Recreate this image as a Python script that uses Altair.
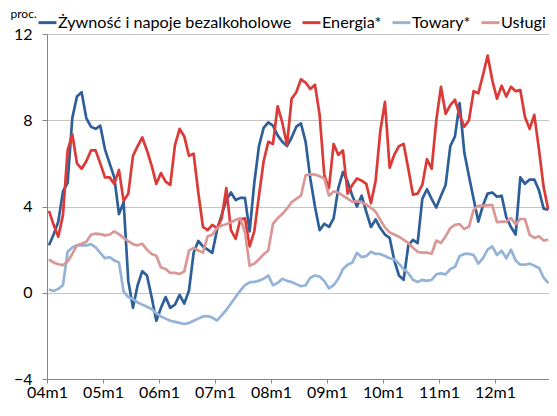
import altair as alt
import pandas as pd

# Monthly data 2004m1 .. 2012m12 (108 months), % y/y
zywnosc = [2.2, 2.7, 3.3, 4.7, 5.1, 8.1, 9.1, 9.3, 8.1, 7.7, 7.6, 7.75,
           6.65, 6.0, 5.35, 3.65, 4.2, 0.55, -0.7, 0.35, 1.0, 0.8, -0.2, -1.3,
           -0.7, -0.2, -0.7, -0.55, -0.1, -0.5, 0.1, 1.85, 2.4, 2.15, 2.0, 1.85,
           2.9, 3.6, 4.3, 4.65, 4.3, 4.4, 4.4, 2.85, 5.1, 6.8, 7.65, 7.9,
           7.75, 7.3, 7.0, 6.8, 7.2, 7.7, 7.85, 7.0, 5.3, 4.0, 2.9, 3.2,
           3.05, 3.45, 4.85, 5.6, 5.15, 4.5, 4.0, 4.5, 3.75, 3.05, 3.4, 3.0,
           2.7, 2.55, 1.5, 0.8, 0.6, 2.2, 2.45, 2.3, 4.35, 4.8, 4.35, 3.95,
           4.5, 5.0, 6.8, 7.25, 8.8, 6.5, 5.4, 4.35, 3.3, 4.05, 4.6, 4.65,
           4.45, 4.5, 3.5, 3.05, 2.7, 5.35, 5.05, 5.25, 5.25, 4.75, 3.9, 3.85]

energia = [3.8, 3.15, 2.6, 3.6, 6.6, 7.35, 6.0, 5.75, 6.1, 6.6, 6.6, 6.0,
           5.35, 5.35, 5.05, 5.7, 4.25, 4.6, 6.35, 6.8, 7.2, 6.6, 5.9, 5.05,
           5.55, 5.15, 5.0, 6.85, 7.6, 7.25, 6.35, 6.45, 4.65, 3.05, 2.9, 3.15,
           3.0, 3.45, 4.85, 2.9, 2.5, 3.4, 3.45, 2.15, 2.85, 4.5, 6.1, 7.0,
           6.9, 8.65, 7.9, 6.85, 9.0, 9.3, 9.9, 9.75, 9.45, 9.65, 8.25, 5.45,
           4.85, 6.9, 6.4, 6.6, 4.6, 5.0, 5.3, 5.2, 5.05, 4.15, 5.2, 7.5,
           8.85, 5.8, 6.4, 6.8, 6.9, 5.75, 4.55, 4.6, 5.0, 6.2, 5.75, 8.0,
           9.55, 8.3, 8.7, 8.95, 8.25, 7.7, 8.0, 9.35, 9.25, 10.1, 11.0, 9.85,
           9.0, 9.6, 9.1, 9.55, 9.35, 9.4, 8.15, 7.6, 8.25, 6.65, 4.9, 3.85]

towary = [0.15, 0.08, 0.18, 0.35, 1.9, 2.1, 2.2, 2.2, 2.2, 2.25, 2.1, 1.85,
          1.6, 1.65, 1.5, 1.4, 0.05, -0.2, -0.3, -0.45, -0.55, -0.65, -0.75, -0.95,
          -1.1, -1.2, -1.3, -1.35, -1.4, -1.45, -1.4, -1.3, -1.2, -1.1, -1.08, -1.15,
          -1.29, -1.05, -0.8, -0.5, -0.2, 0.1, 0.35, 0.48, 0.5, 0.56, 0.65, 0.8,
          0.35, 0.45, 0.65, 0.55, 0.5, 0.4, 0.3, 0.35, 0.7, 0.8, 0.75, 0.55,
          0.2, 0.35, 0.65, 1.1, 1.3, 1.4, 1.85, 1.65, 1.7, 1.9, 1.8, 1.8,
          1.7, 1.6, 1.55, 1.35, 1.1, 0.9, 0.6, 0.5, 0.6, 0.55, 0.6, 0.85,
          0.9, 0.85, 1.1, 1.2, 1.7, 1.8, 1.8, 1.75, 1.35, 1.6, 2.0, 2.15,
          1.75, 1.95, 1.6, 2.0, 1.5, 1.3, 1.3, 1.35, 1.25, 1.15, 0.7, 0.45]

uslugi = [1.55, 1.4, 1.32, 1.28, 1.45, 1.8, 2.2, 2.27, 2.36, 2.69, 2.74, 2.72,
          2.66, 2.7, 2.85, 2.72, 2.54, 2.39, 2.25, 2.2, 2.27, 2.0, 1.8, 1.72,
          1.17, 1.1, 0.92, 0.92, 0.87, 0.99, 1.95, 2.08, 1.96, 1.86, 2.62, 2.69,
          3.0, 3.12, 3.18, 3.27, 3.38, 3.46, 2.8, 1.25, 1.35, 1.55, 1.78, 1.96,
          3.2, 3.45, 3.65, 3.9, 4.2, 4.35, 4.5, 5.45, 5.5, 5.48, 5.4, 5.3,
          4.5, 4.7, 4.64, 4.5, 4.37, 4.22, 4.25, 4.19, 4.09, 3.94, 3.76, 3.38,
          3.03, 2.8, 2.7, 2.6, 2.45, 2.31, 2.09, 1.9, 1.86, 1.86, 1.81, 2.42,
          2.31, 2.62, 3.0, 3.15, 3.18, 2.95, 3.07, 3.84, 4.03, 4.03, 4.06, 4.06,
          3.27, 3.3, 3.3, 3.46, 3.18, 3.42, 3.42, 2.69, 2.54, 2.62, 2.42, 2.47]

series_names = ["Żywność i napoje bezalkoholowe", "Energia*", "Towary*", "Usługi"]
series_colors = ["#2f5f98", "#dc3a36", "#95b3d7", "#d99795"]
year_labels = ["04m1", "05m1", "06m1", "07m1", "08m1", "09m1", "10m1", "11m1", "12m1"]

rows = []
for name, vals in zip(series_names, [zywnosc, energia, towary, uslugi]):
    for i, v in enumerate(vals):
        rows.append({"m": i, "v": v, "s": name, "o": series_names.index(name)})
df = pd.DataFrame(rows)

x0 = -0.42
tick_vals = [x0 + 12 * k for k in range(len(year_labels))]
label_expr = "[" + ",".join("'%s'" % l for l in year_labels) + "][round((datum.value - (%s)) / 12)]" % x0

FONT = "Lato"

chart = alt.Chart(df).mark_line(strokeWidth=2.7, strokeJoin="round").encode(
    x=alt.X("m:Q",
            scale=alt.Scale(domain=[x0, 107.15], nice=False, zero=False),
            axis=alt.Axis(values=tick_vals, labelExpr=label_expr, title=None,
                          grid=False, tickSize=4, tickColor="#868686",
                          domainColor="#868686", labelPadding=1,
                          labelFontSize=16, labelColor="#000000", labelFont=FONT,
                          labelFlush=False, labelOverlap=False)),
    y=alt.Y("v:Q",
            scale=alt.Scale(domain=[-4, 12], nice=False, zero=False),
            axis=alt.Axis(values=[-4, 0, 4, 8, 12], title="proc.", titleAngle=0,
                          titleX=-37, titleY=-25.5, titleAlign="left",
                          titleBaseline="top", titleFontSize=12,
                          titleFontWeight="normal", titleFont=FONT, titleColor="#000000",
                          grid=True, gridColor="#c4c4c4", gridWidth=1,
                          tickSize=5, tickColor="#868686", domainColor="#868686",
                          labelPadding=10, labelFontSize=16, labelFont=FONT,
                          labelColor="#000000")),
    color=alt.Color("s:N",
                    scale=alt.Scale(domain=series_names, range=series_colors),
                    legend=alt.Legend(orient="none", direction="horizontal",
                                      legendX=-10, legendY=-22, title=None,
                                      symbolType="stroke", symbolSize=324,
                                      symbolStrokeWidth=3, labelFontSize=16.2,
                                      labelFont=FONT, labelColor="#000000",
                                      labelOffset=0, columnPadding=4,
                                      padding=0, labelLimit=400)),
    order=alt.Order("o:Q"),
).properties(
    width=502, height=345,
    padding={"left": 39, "top": 26, "right": 0, "bottom": 20},
    autosize=alt.AutoSizeParams(type="none"),
).configure_view(stroke=None).configure(background="#ffffff")

chart.save("out.html", embed_options={"renderer": "svg", "actions": False})
